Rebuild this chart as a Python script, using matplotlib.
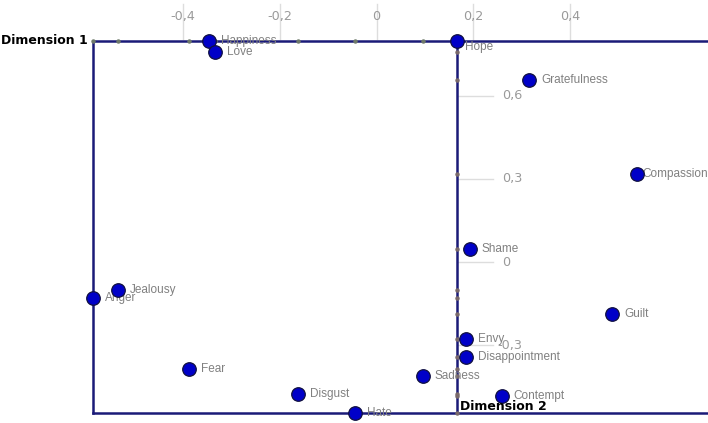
import matplotlib
matplotlib.use("Agg")
import matplotlib.pyplot as plt

# emotion coordinates (Dimension 1, Dimension 2)
labels = ["Happiness", "Love", "Hope", "Gratefulness", "Compassion", "Shame",
          "Jealousy", "Anger", "Guilt", "Envy", "Disappointment", "Fear",
          "Sadness", "Disgust", "Contempt", "Hate"]
dim1 = [-0.346, -0.334, 0.166, 0.315, 0.539, 0.193, -0.534, -0.586, 0.487,
        0.185, 0.185, -0.388, 0.096, -0.162, 0.259, -0.044]
dim2 = [0.799, 0.759, 0.799, 0.658, 0.318, 0.047, -0.101, -0.130, -0.188,
        -0.278, -0.343, -0.387, -0.412, -0.477, -0.484, -0.546]

xticks = [-0.4, -0.2, 0, 0.2, 0.4]
xtick_labels = ["-0,4", "-0,2", "0", "0,2", "0,4"]
yticks = [0.6, 0.3, 0, -0.3]
ytick_labels = ["0,6", "0,3", "0", "-0,3"]

W, H = 708, 423
sx, x0 = 483.75, 376.5   # px per unit, px of zero (x)
sy, y0 = 276.7, 262.0    # px per unit, px of zero (y)

def px2x(p):
    return (p - x0) / sx

def px2y(p):
    return (y0 - p) / sy

fig = plt.figure(figsize=(W / 100, H / 100), dpi=100)
ax = fig.add_axes([0, 0, 1, 1])
ax.set_xlim(px2x(0), px2x(W))
ax.set_ylim(px2y(H), px2y(0))
ax.axis("off")

navy = "#1a1a78"
grid = "#dddddd"
tickc = "#9a9a9a"
labc = "#808080"

left = min(dim1)
top = max(dim2)
bottom = min(dim2)
dim2_pos = dim1[labels.index("Hope")]
right = px2x(W)

# axis frame
ax.plot([left, right], [top, top], color=navy, lw=1.8, zorder=2)
ax.plot([left, left], [top, bottom], color=navy, lw=1.8, zorder=2)
ax.plot([left, right], [bottom, bottom], color=navy, lw=1.8, zorder=2)
ax.plot([dim2_pos, dim2_pos], [top, bottom], color=navy, lw=1.8, zorder=2)

# tick stubs + labels on top
for t, lab in zip(xticks, xtick_labels):
    ax.plot([t, t], [px2y(4), px2y(39)], color=grid, lw=1, zorder=1)
    ax.text(t, px2y(17), lab, ha="center", va="center", color=tickc,
            fontsize=9.2, family="DejaVu Sans", zorder=1)
# tick stubs + labels on vertical axis
for t, lab in zip(yticks, ytick_labels):
    ax.plot([px2x(458), px2x(493)], [t, t], color=grid, lw=1, zorder=1)
    xl = 497 if lab.startswith("-") else 502
    ax.text(px2x(xl), t, lab, ha="left", va="center", color=tickc,
            fontsize=9.2, family="DejaVu Sans", zorder=1)

# projection marks on the axes
for x, y in zip(dim1, dim2):
    if x < dim2_pos:
        ax.plot(x, top, "o", ms=2.2, color="#6f7a6a", zorder=3)
    ax.plot(dim2_pos, y, "o", ms=2.2, color="#7a6a6a", zorder=3)

# points
ax.scatter(dim1, dim2, s=95, color="#0000c8", edgecolor="#101040",
           linewidth=0.9, zorder=5)

for x, y, lab in zip(dim1, dim2, labels):
    dx, dy = 12, 0
    if lab == "Compassion":
        dx = 5
    if lab == "Hope":
        dx, dy = 8, -6
    ax.annotate(lab, (x, y), xytext=(dx * 0.72, dy * 0.72),
                textcoords="offset points", ha="left", va="center",
                color=labc, fontsize=8.5, family="Liberation Sans", zorder=4)

ax.text(px2x(88), top, "Dimension 1", ha="right", va="center",
        fontsize=9, fontweight="bold", family="DejaVu Sans", color="black")
ax.text(px2x(460), px2y(407), "Dimension 2", ha="left", va="center",
        fontsize=9, fontweight="bold", family="DejaVu Sans", color="black",
        zorder=6)

fig.savefig("out.png", dpi=100)
